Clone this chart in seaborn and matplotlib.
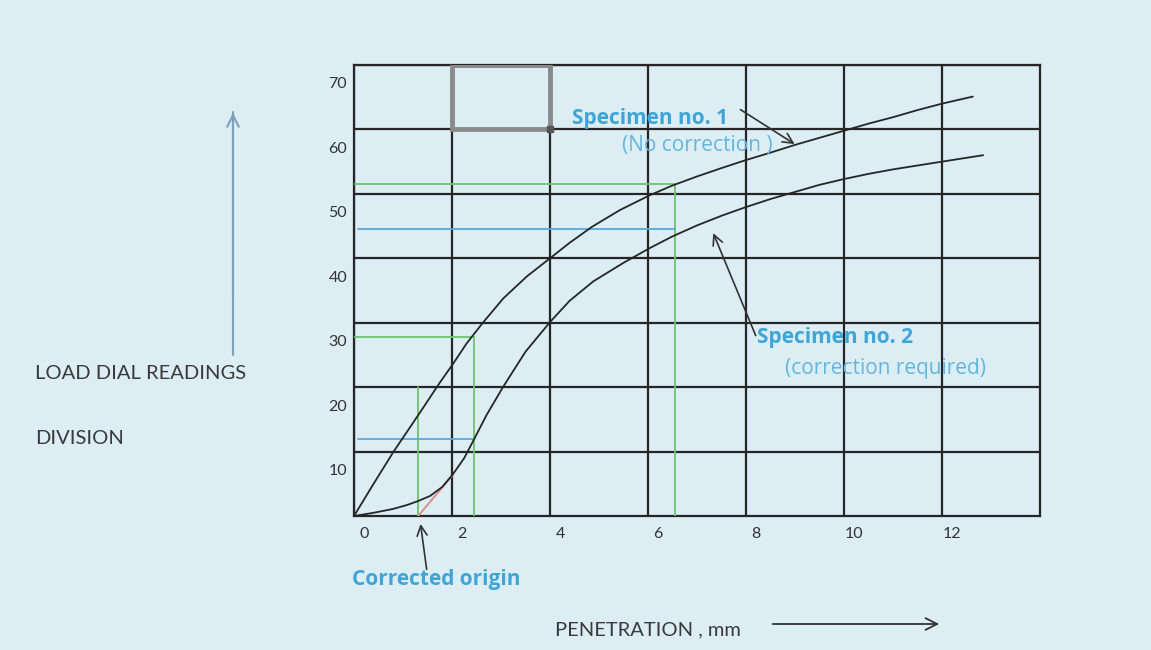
import matplotlib
matplotlib.use("Agg")
import matplotlib.pyplot as plt
import matplotlib.transforms as mtransforms
from matplotlib.patches import Rectangle
import pandas as pd
import seaborn as sns

# load dial reading (divisions) against penetration (mm)
pen_1 = [0, 0.4, 0.8, 1.35, 1.76, 2.02, 2.3, 2.63, 3.05, 3.53, 4.0, 4.4, 4.86, 5.43, 6.04, 6.5, 7.0, 7.5, 7.98, 8.5, 9.0, 9.5, 10.0, 10.5, 11.0, 11.5, 12.0, 12.63]
load_1 = [0, 5.0, 9.9, 16.1, 20.8, 23.6, 26.8, 30.0, 33.8, 37.2, 40.0, 42.4, 44.9, 47.5, 49.8, 51.3, 52.7, 54.0, 55.2, 56.4, 57.6, 58.7, 59.8, 60.9, 61.9, 63.0, 64.0, 65.1]
pen_2 = [0, 0.4, 0.8, 1.08, 1.3, 1.55, 1.8, 2.02, 2.25, 2.45, 2.7, 3.04, 3.5, 4.0, 4.4, 4.88, 5.5, 6.04, 6.5, 7.0, 7.5, 7.98, 8.5, 9.0, 9.5, 10.0, 10.5, 11.0, 11.5, 12.0, 12.84]
load_2 = [0, 0.5, 1.1, 1.7, 2.3, 3.1, 4.5, 6.5, 9.0, 11.9, 15.6, 20.0, 25.5, 30.1, 33.4, 36.4, 39.3, 41.6, 43.4, 45.1, 46.6, 47.9, 49.2, 50.3, 51.4, 52.3, 53.1, 53.8, 54.4, 55.0, 56.0]
specimens = ["Specimen no. 1", "Specimen no. 2"]

x_ticks = [0, 2, 4, 6, 8, 10, 12]
y_ticks = [10, 20, 30, 40, 50, 60, 70]

# construction lines
green_level = [51.5, 27.8]
green_pen = [6.55, 2.45]
blue_level = [44.5, 11.9]
blue_pen = [6.55, 2.45]
corrected_origin = 1.31
corrected_top = 20
tangent_pen = [1.31, 2.02]
tangent_load = [0, 6.4]

bg = "#dcedf3"
ink = "#262626"
blue_txt = "#3ea5d8"
blue_light = "#62b7e0"

sns.set_theme(style="white")
plt.rcParams['font.family'] = ['Lato', 'DejaVu Sans']

fig = plt.figure(figsize=(11.51, 6.5), dpi=100, facecolor=bg)
ax = fig.add_axes([354 / 1151, 1 - 516 / 650, 686 / 1151, 451 / 650])
ax.set_facecolor(bg)

df = pd.concat([
    pd.DataFrame({"pen": pen_1, "load": load_1, "specimen": specimens[0]}),
    pd.DataFrame({"pen": pen_2, "load": load_2, "specimen": specimens[1]}),
])
sns.lineplot(data=df, x="pen", y="load", hue="specimen", palette=[ink, ink],
             sort=False, legend=False, lw=1.3, ax=ax, zorder=4)

# green / blue reading lines
for lvl, p in zip(green_level, green_pen):
    ax.plot([0, p], [lvl, lvl], color="#6cc46c", lw=1.3, zorder=3)
    ax.plot([p, p], [0, lvl], color="#6cc46c", lw=1.3, zorder=3)
ax.plot([corrected_origin, corrected_origin], [0, corrected_top], color="#6cc46c", lw=1.3, zorder=3)
for lvl, p in zip(blue_level, blue_pen):
    ax.plot([0.08, p], [lvl, lvl], color="#58a9dc", lw=1.3, zorder=3)
ax.plot(tangent_pen, tangent_load, color="#d98a8a", lw=1.3, zorder=3)

# selected cell box
ax.add_patch(Rectangle((2, 60), 2, 10, fill=False, edgecolor="#8a8a8a", lw=3.5, zorder=5))
ax.plot([4], [60], marker="s", ms=4, color="#555555", zorder=6)

ax.set_xlim(0, 14)
ax.set_ylim(0, 70)
ax.set_xticks(x_ticks)
ax.set_yticks(y_ticks)
ax.set_xticklabels([str(t) for t in x_ticks])
ax.set_yticklabels([str(t) for t in y_ticks])
ax.grid(True, color=ink, lw=1.6)
ax.set_axisbelow(True)
for s in ax.spines.values():
    s.set_color(ink)
    s.set_linewidth(1.6)
ax.tick_params(axis="both", length=0, labelsize=11.5, labelcolor="#333333")
ax.tick_params(axis="x", pad=8)
ax.tick_params(axis="y", pad=5)
ax.set_xlabel("")
ax.set_ylabel("")

# labels sit a bit off the grid lines, like in the hand drawing
for lab in ax.get_xticklabels():
    lab.set_transform(lab.get_transform() + mtransforms.ScaledTranslation(0.10, 0, fig.dpi_scale_trans))
for lab in ax.get_yticklabels():
    lab.set_transform(lab.get_transform() + mtransforms.ScaledTranslation(0, -0.18, fig.dpi_scale_trans))

# annotations
arr = dict(arrowstyle="->,head_length=0.6,head_width=0.3", color="#333333", lw=1.2)
ax.annotate("", xy=(9.04, 57.5), xytext=(7.84, 63.3), arrowprops=arr, zorder=6)
ax.annotate("", xy=(7.31, 44.3), xytext=(8.22, 27.6), arrowprops=arr, zorder=6)
ax.annotate("", xy=(1.35, -0.8), xytext=(1.49, -8.7), arrowprops=arr, annotation_clip=False)

blue_font = ['Open Sans', 'DejaVu Sans']
ax.text(4.45, 61.7, "Specimen no. 1", color=blue_txt, fontsize=15, fontweight="bold",
        family=blue_font, va="center", zorder=7)
ax.text(5.47, 57.5, "(No correction )", color=blue_light, fontsize=15, family=blue_font,
        va="center", zorder=7)
ax.text(8.22, 27.75, "Specimen no. 2", color=blue_txt, fontsize=15, fontweight="bold",
        family=blue_font, va="center", zorder=7)
ax.text(8.8, 22.9, "(correction required)", color=blue_light, fontsize=15, family=blue_font,
        va="center", zorder=7)
ax.text(-0.04, -9.9, "Corrected origin", color=blue_txt, fontsize=15, fontweight="bold",
        family=blue_font, va="center", clip_on=False)

fig.text(35 / 1151, 1 - 373 / 650, "LOAD DIAL READINGS", color="#3a3a3a", fontsize=14.5, va="center")
fig.text(35 / 1151, 1 - 438 / 650, "DIVISION", color="#3a3a3a", fontsize=14.5, va="center")
fig.text(555 / 1151, 1 - 630 / 650, "PENETRATION , mm", color="#3a3a3a", fontsize=14.5, va="center")
fig.add_artist(plt.Line2D([233 / 1151, 233 / 1151], [1 - 355 / 650, 1 - 112 / 650], color="#7d9fbd", lw=1.5))
ax.annotate("", xy=(233, 650 - 110), xytext=(233, 650 - 300), xycoords="figure pixels",
            arrowprops=dict(arrowstyle="->,head_length=0.7,head_width=0.35", color="#7d9fbd", lw=1.5))
ax.annotate("", xy=(942, 650 - 624), xytext=(770, 650 - 624), xycoords="figure pixels",
            arrowprops=dict(arrowstyle="->,head_length=0.7,head_width=0.35", color="#333333", lw=1.3))

fig.savefig("out.png", dpi=100, facecolor=bg)
